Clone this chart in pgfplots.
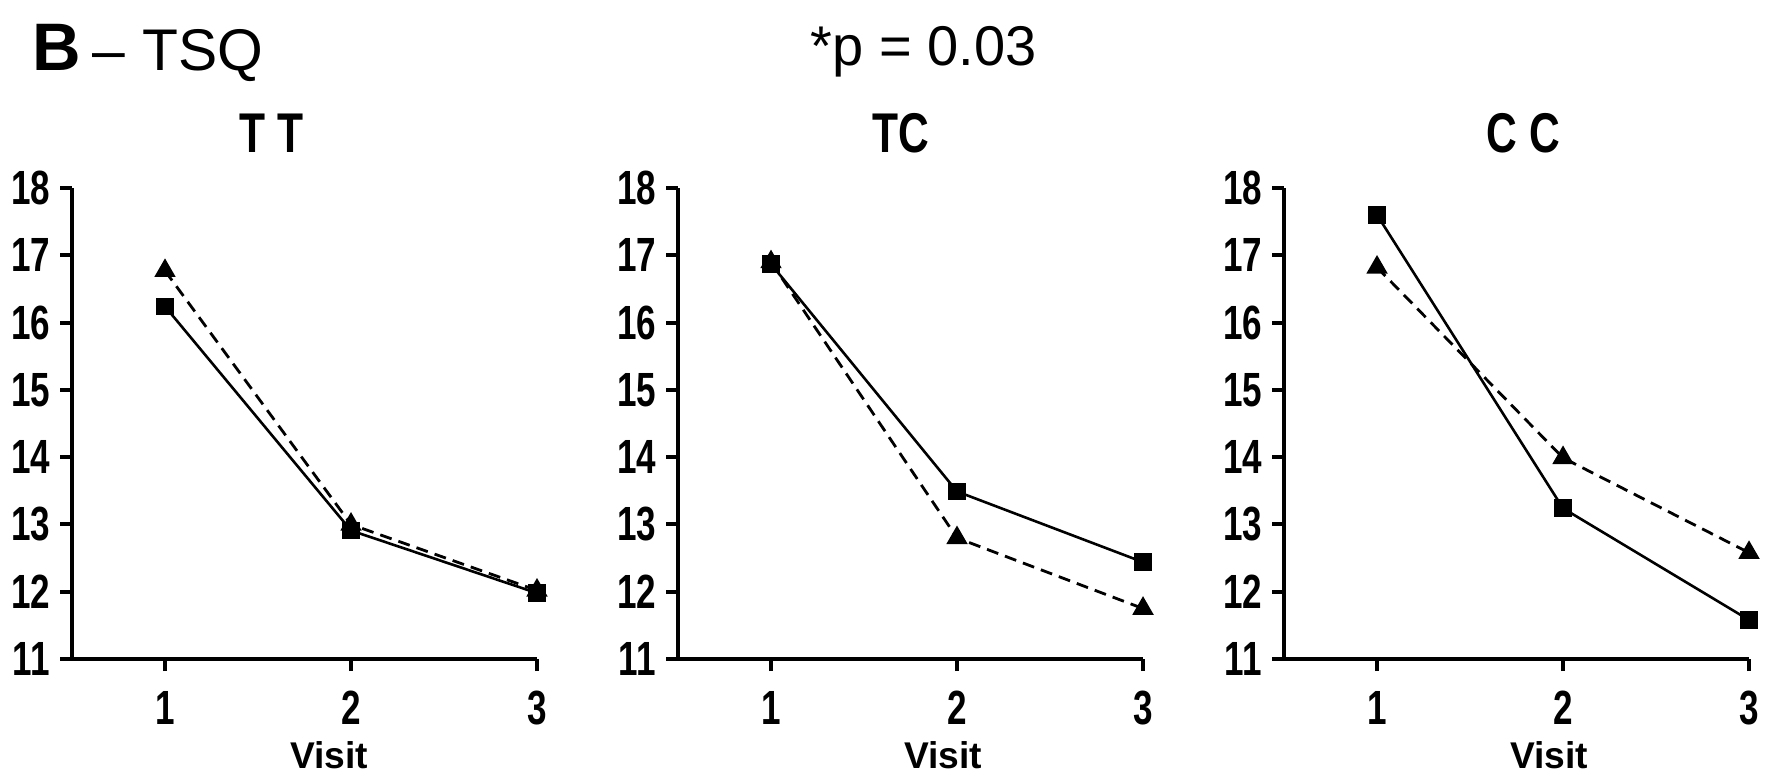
\documentclass[border=0pt]{standalone}
\usepackage{fontspec}
\setmainfont{Liberation Sans}
\newfontfamily\condfont[FakeStretch=0.73]{Liberation Sans}
\newfontfamily\titlefont[FakeStretch=0.76]{Liberation Sans}
\usepackage{pgfplots}
\pgfplotsset{compat=1.18}
\pgfplotsset{
  panel/.style={
    scale only axis, width=116.25pt, height=117.75pt,
    xmin=0.5, xmax=3, ymin=11, ymax=18,
    axis lines=left, axis line style={-, line width=1pt, black},
    xtick={1,2,3}, ytick={11,12,...,18},
    tick align=outside, major tick length=3pt,
    tick style={line width=1pt, black},
    /pgf/number format/assume math mode=true,
    ticklabel style={font=\condfont\bfseries\fontsize{12}{12}\selectfont},
    yticklabel style={inner sep=0pt, anchor=east, xshift=-2.3pt},
    xticklabel style={inner sep=0pt, anchor=north, yshift=-4.9pt},
    title style={font=\titlefont\bfseries\fontsize{14}{14}\selectfont, anchor=base, inner sep=0pt, yshift=2.8pt},
    xlabel style={font=\bfseries\fontsize{9.3}{9.3}\selectfont, anchor=base, inner sep=0pt, yshift=-27.25pt},
    clip=false,
    anchor=south west,
  },
  sq/.style={black, line width=0.65pt, solid, mark=square*, mark size=1.9pt, mark options={solid}},
  tri/.style={black, line width=0.7pt, dash pattern=on 3pt off 1.8pt, mark=triangle*, mark size=2.4pt, mark options={solid}},
}
\begin{document}
\begin{tikzpicture}
\path[use as bounding box] (0,0) rectangle (443pt,-193.75pt);
\node[anchor=base west, inner sep=0pt, font=\bfseries\fontsize{16.8}{16.8}\selectfont] at (8pt,-17.5pt) {B};
\node[anchor=base west, inner sep=0pt, font=\fontsize{14.7}{14.7}\selectfont] at (23pt,-17.5pt) {–};
\node[anchor=base west, inner sep=0pt, font=\fontsize{14.7}{14.7}\selectfont] at (35.5pt,-17.5pt) {TSQ};
\node[anchor=base west, inner sep=0pt, font=\fontsize{14}{14}\selectfont] at (202.5pt,-16.25pt) {*p = 0.03};

\begin{axis}[panel, at={(18pt,-164.75pt)},
  title={T T}, title style={at={(axis description cs:0.429,1)}},
  xlabel={Visit}, xlabel style={at={(axis description cs:0.553,0)}}]
\addplot[tri] coordinates {(1,16.77) (2,13.0) (3,12.02)};
\addplot[sq] coordinates {(1,16.24) (2,12.91) (3,11.98)};
\end{axis}

\begin{axis}[panel, at={(169.5pt,-164.75pt)},
  title={TC}, title style={at={(axis description cs:0.48,1)}},
  xlabel={Visit}, xlabel style={at={(axis description cs:0.57,0)}}]
\addplot[tri] coordinates {(1,16.9) (2,12.8) (3,11.75)};
\addplot[sq] coordinates {(1,16.87) (2,13.49) (3,12.44)};
\end{axis}

\begin{axis}[panel, at={(321pt,-164.75pt)},
  title={C C}, title style={at={(axis description cs:0.515,1)}},
  xlabel={Visit}, xlabel style={at={(axis description cs:0.57,0)}}]
\addplot[tri] coordinates {(1,16.82) (2,13.99) (3,12.58)};
\addplot[sq] coordinates {(1,17.6) (2,13.24) (3,11.58)};
\end{axis}
\end{tikzpicture}
\end{document}
